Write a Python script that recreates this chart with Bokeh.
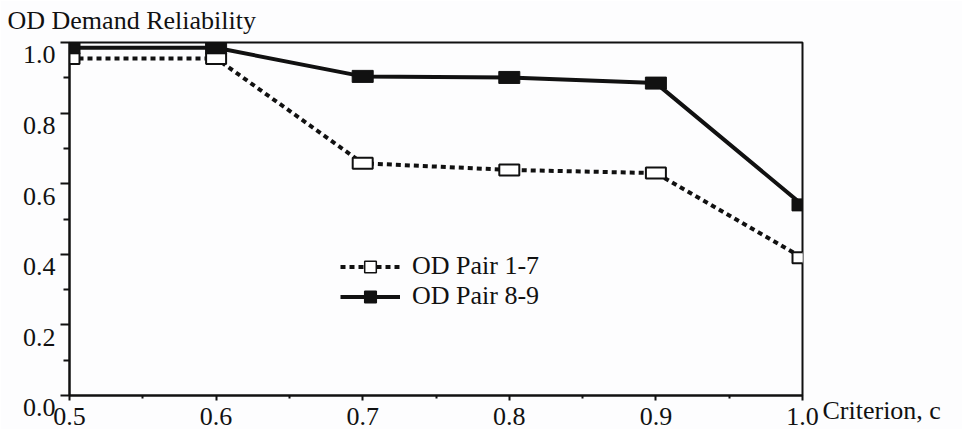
from bokeh.plotting import figure
from bokeh.models import (Range1d, FixedTicker, Label, Legend, LegendItem,
                          ColumnDataSource, NumeralTickFormatter,
                          CustomJSTickFormatter)
from bokeh.embed import file_html
from bokeh.resources import INLINE

# ---- data ----
criterion = [0.5, 0.6, 0.7, 0.8, 0.9, 1.0]
od_pair_1_7 = [0.955, 0.955, 0.658, 0.639, 0.630, 0.390]
od_pair_8_9 = [0.985, 0.985, 0.904, 0.901, 0.885, 0.540]
x_ticks = [0.5, 0.6, 0.7, 0.8, 0.9, 1.0]
x_minor_ticks = [0.55, 0.65, 0.75, 0.85, 0.95]
y_ticks = [0.0, 0.2, 0.4, 0.6, 0.8, 1.0]
y_minor_ticks = [0.1, 0.3, 0.5, 0.7, 0.9]
series_labels = ["OD Pair 1-7", "OD Pair 8-9"]
title_text = "OD Demand Reliability"
x_label_text = "Criterion, c"

INK = "#111111"
BG = "#fdfdfe"
FONT = "serif"
FS = "26px"

src = ColumnDataSource(data=dict(x=criterion, a=od_pair_1_7, b=od_pair_8_9))

p = figure(width=962, height=429,
           x_range=Range1d(0.5, 1.0), y_range=Range1d(0.0, 1.0),
           output_backend="svg", toolbar_location=None,
           min_border_left=69, min_border_right=160,
           min_border_top=42, min_border_bottom=34,
           background_fill_color=BG, border_fill_color=BG,
           outline_line_color=INK, outline_line_width=2)
p.grid.visible = False

# axes
for ax in (p.xaxis[0], p.yaxis[0]):
    ax.axis_line_color = INK
    ax.axis_line_width = 2
    ax.major_tick_line_color = INK
    ax.major_tick_line_width = 2
    ax.minor_tick_line_color = INK
    ax.minor_tick_line_width = 2
    ax.major_tick_in = 0
    ax.minor_tick_in = 0
    ax.major_label_text_font = FONT
    ax.major_label_text_font_size = FS
    ax.major_label_text_color = INK

p.xaxis[0].formatter = NumeralTickFormatter(format="0.0")
p.xaxis[0].ticker = FixedTicker(ticks=x_ticks, minor_ticks=x_minor_ticks)
p.xaxis[0].major_tick_out = 5
p.xaxis[0].minor_tick_out = 3
p.xaxis[0].major_label_standoff = 7

# y labels sit a little below their ticks in the reference
p.yaxis[0].formatter = CustomJSTickFormatter(code="return '\\n' + tick.toFixed(1)")
p.yaxis[0].major_label_text_line_height = 0.85
p.yaxis[0].ticker = FixedTicker(ticks=y_ticks, minor_ticks=y_minor_ticks)
p.yaxis[0].major_tick_out = 9
p.yaxis[0].minor_tick_out = 6
p.yaxis[0].major_label_standoff = 5

# series 1-7 : dotted line, open rectangles
l1 = p.line("x", "a", source=src, line_color=INK, line_width=4, line_dash="5 4")
s1 = p.scatter("x", "a", source=src, marker="square", size=9,
               fill_color="white", line_color=INK, line_width=1.5)
p.rect("x", "a", source=src, width=20, height=11, width_units="screen",
       height_units="screen", fill_color="white", line_color=INK, line_width=2)

# series 8-9 : solid line, filled rectangles
l2 = p.line("x", "b", source=src, line_color=INK, line_width=4)
s2 = p.scatter("x", "b", source=src, marker="square", size=9,
               fill_color=INK, line_color=INK, line_width=1.5)
p.rect("x", "b", source=src, width=21, height=12, width_units="screen",
       height_units="screen", fill_color=INK, line_color=INK, line_width=1)

legend = Legend(items=[LegendItem(label=series_labels[0], renderers=[l1, s1]),
                       LegendItem(label=series_labels[1], renderers=[l2, s2])],
                location=(271, 84), padding=0, margin=0, spacing=0,
                glyph_width=60, glyph_height=29, label_height=29,
                label_standoff=12, border_line_alpha=0,
                background_fill_alpha=0,
                label_text_font=FONT, label_text_font_size=FS,
                label_text_color=INK)
p.add_layout(legend)

# texts outside the frame live in side panels (not clipped there)
p.add_layout(Label(x=0.5, y=1.0, x_offset=-62, y_offset=22, text=title_text,
                   text_font=FONT, text_font_size=FS, text_color=INK,
                   text_baseline="alphabetic"), "above")
p.add_layout(Label(x=1.0, y=0.0, x_offset=20, y_offset=-15, text=x_label_text,
                   text_font=FONT, text_font_size=FS, text_color=INK,
                   text_baseline="alphabetic"), "right")

open("out.html", "w").write(file_html(p, INLINE))
